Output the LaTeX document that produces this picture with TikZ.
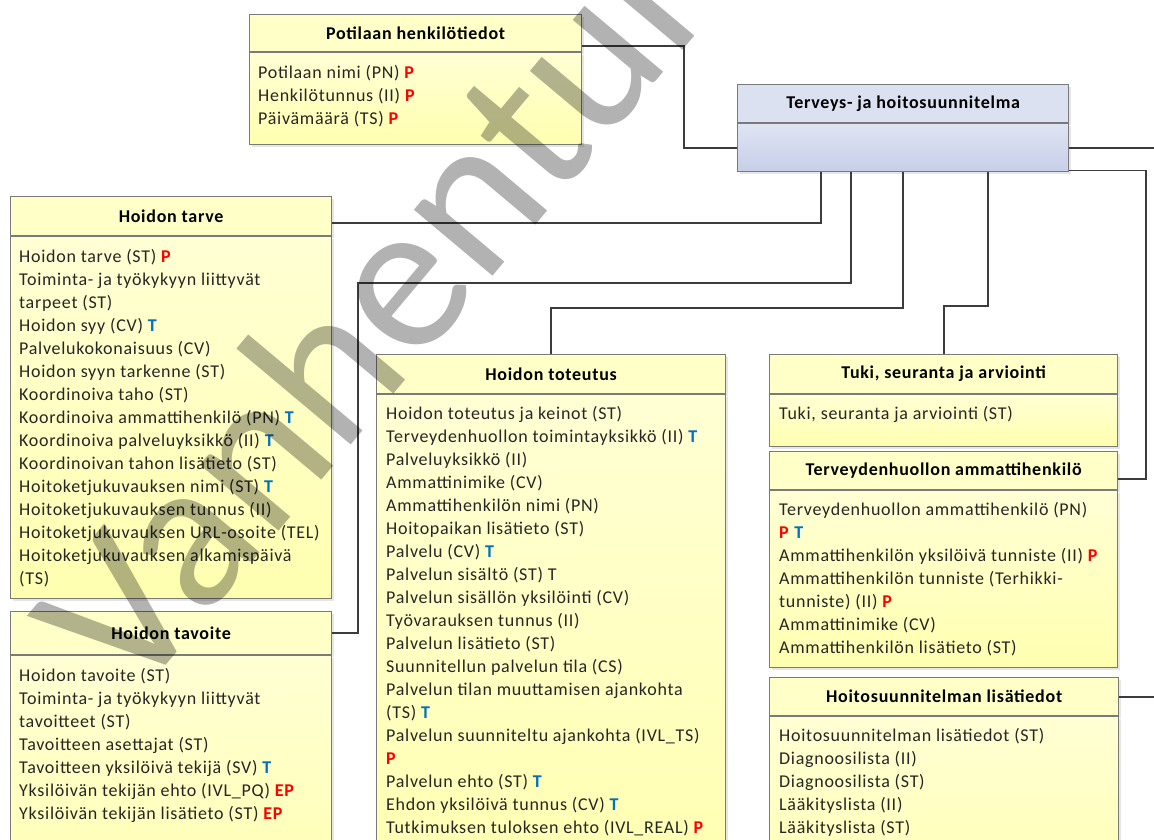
\documentclass[tikz,border=0pt]{standalone}
\usepackage{fontspec}
\setmainfont{Carlito}[LetterSpace=4]
\newfontfamily\stampfont{Carlito}
\usetikzlibrary{positioning,shadows}

\definecolor{boxline}{HTML}{7A7A7A}
\definecolor{connline}{HTML}{3C3C3C}
\definecolor{yhead}{HTML}{FFFFC8}
\definecolor{ytop}{HTML}{FFFFD4}
\definecolor{ybot}{HTML}{FFFFB0}
\definecolor{bhead}{HTML}{DCE1F1}
\definecolor{btop}{HTML}{DFE4F3}
\definecolor{bbot}{HTML}{C7CFE8}
\definecolor{pred}{HTML}{FF0000}
\definecolor{tblue}{HTML}{0070C0}
\definecolor{itemtext}{HTML}{262626}

\newcommand{\pmark}{\textcolor{pred}{\textbf{P}}}
\newcommand{\tmark}{\textcolor{tblue}{\textbf{T}}}
\newcommand{\epmark}{\textcolor{pred}{\textbf{EP}}}

\tikzset{
  hdr/.style={draw=boxline, line width=1.2pt, fill=yhead, anchor=north west, inner sep=0pt,
    font=\fontsize{18}{23}\selectfont\bfseries,
    drop shadow={shadow xshift=2pt, shadow yshift=-2pt, opacity=0.2}},
  bdy/.style={draw=boxline, line width=1.2pt, top color=ytop, bottom color=ybot, anchor=north west, inner sep=0pt,
    drop shadow={shadow xshift=2pt, shadow yshift=-2pt, opacity=0.2}},
  items/.style={anchor=north west, inner sep=0pt, align=left, text=itemtext, font=\fontsize{18}{23}\selectfont},
  conn/.style={draw=connline, line width=1.8pt}
}

\begin{document}
\begin{tikzpicture}[x=1pt,y=-1pt]
\useasboundingbox (0,0) rectangle (1154,839);
\clip (0,0) rectangle (1154,839);

% potilas ja suunnitelma
\node[hdr, minimum width=332pt, minimum height=37pt] (potH) at (249,14) {Potilaan henkilötiedot};
\node[bdy, minimum width=332pt, minimum height=92pt] (pot) at (potH.south west) {};
\node[items] (potT) at ([xshift=9pt,yshift=-10pt]pot.north west) {\strut Potilaan nimi (PN) \pmark\\
Henkilötunnus (II) \pmark\\
Päivämäärä (TS) \pmark};

\node[hdr, fill=bhead, minimum width=331pt, minimum height=38pt] (tervH) at (737,84) {Terveys- ja hoitosuunnitelma};
\node[bdy, top color=btop, bottom color=bbot, minimum width=331pt, minimum height=48pt] (terv) at (tervH.south west) {};

% vasen sarake
\begin{scope}
\node[hdr, minimum width=321pt, minimum height=39pt] (tarveH) at (10,196) {Hoidon tarve};
\node[bdy, minimum width=321pt, minimum height=362pt] (tarve) at (tarveH.south west) {};
\node[items] (tarveT) at ([xshift=9pt,yshift=-10pt]tarve.north west) {\strut Hoidon tarve (ST) \pmark\\
Toiminta- ja työkykyyn liittyvät\\
tarpeet (ST)\\
Hoidon syy (CV) \tmark\\
Palvelukokonaisuus (CV)\\
Hoidon syyn tarkenne (ST)\\
Koordinoiva taho (ST)\\
Koordinoiva ammattihenkilö (PN) \tmark\\
Koordinoiva palveluyksikkö (II) \tmark\\
Koordinoivan tahon lisätieto (ST)\\
Hoitoketjukuvauksen nimi (ST) \tmark\\
Hoitoketjukuvauksen tunnus (II)\\
Hoitoketjukuvauksen URL-osoite (TEL)\\
Hoitoketjukuvauksen alkamispäivä\\
(TS)};

\node[hdr, minimum width=321pt, minimum height=43pt] (tavH) at (10,611) {Hoidon tavoite};
\node[bdy, minimum width=321pt, minimum height=260pt] (tav) at (tavH.south west) {};
\node[items] (tavT) at ([xshift=9pt,yshift=-10pt]tav.north west) {\strut Hoidon tavoite (ST)\\
Toiminta- ja työkykyyn liittyvät\\
tavoitteet (ST)\\
Tavoitteen asettajat (ST)\\
Tavoitteen yksilöivä tekijä (SV) \tmark\\
Yksilöivän tekijän ehto (IVL\_PQ) \epmark\\
Yksilöivän tekijän lisätieto (ST) \epmark};
\end{scope}

% keskisarake
\begin{scope}
\node[hdr, minimum width=349pt, minimum height=39pt] (totH) at (376,354) {Hoidon toteutus};
\node[bdy, minimum width=349pt, minimum height=500pt] (tot) at (totH.south west) {};
\node[items] (totT) at ([xshift=10pt,yshift=-9pt]tot.north west) {\strut Hoidon toteutus ja keinot (ST)\\
Terveydenhuollon toimintayksikkö (II) \tmark\\
Palveluyksikkö (II)\\
Ammattinimike (CV)\\
Ammattihenkilön nimi (PN)\\
Hoitopaikan lisätieto (ST)\\
Palvelu (CV) \tmark\\
Palvelun sisältö (ST) T\\
Palvelun sisällön yksilöinti (CV)\\
Työvarauksen tunnus (II)\\
Palvelun lisätieto (ST)\\
Suunnitellun palvelun tila (CS)\\
Palvelun tilan muuttamisen ajankohta\\
(TS) \tmark\\
Palvelun suunniteltu ajankohta (IVL\_TS)\\
\pmark\\
Palvelun ehto (ST) \tmark\\
Ehdon yksilöivä tunnus (CV) \tmark\\
Tutkimuksen tuloksen ehto (IVL\_REAL) \pmark};
\end{scope}

% oikea sarake
\begin{scope}
\node[hdr, minimum width=348pt, minimum height=39pt] (tukH) at (769,354) {Tuki, seuranta ja arviointi};
\node[bdy, minimum width=348pt, minimum height=52pt] (tuk) at (tukH.south west) {};
\node[items] (tukT) at ([xshift=10pt,yshift=-9pt]tuk.north west) {\strut Tuki, seuranta ja arviointi (ST)};

\node[hdr, minimum width=348pt, minimum height=38pt] (ammH) at (769,451) {Terveydenhuollon ammattihenkilö};
\node[bdy, minimum width=348pt, minimum height=177pt] (amm) at (ammH.south west) {};
\node[items] (ammT) at ([xshift=10pt,yshift=-9pt]amm.north west) {\strut Terveydenhuollon ammattihenkilö (PN)\\
\pmark{} \tmark\\
Ammattihenkilön yksilöivä tunniste (II) \pmark\\
Ammattihenkilön tunniste (Terhikki-\\
tunniste) (II) \pmark\\
Ammattinimike (CV)\\
Ammattihenkilön lisätieto (ST)};

\node[hdr, minimum width=349pt, minimum height=38pt] (lisH) at (769,677) {Hoitosuunnitelman lisätiedot};
\node[bdy, minimum width=349pt, minimum height=200pt] (lis) at (lisH.south west) {};
\node[items] (lisT) at ([xshift=10pt,yshift=-9pt]lis.north west) {\strut Hoitosuunnitelman lisätiedot (ST)\\
Diagnoosilista (II)\\
Diagnoosilista (ST)\\
Lääkityslista (II)\\
Lääkityslista (ST)};
\end{scope}

% yhteydet
\coordinate (edgeR) at (1154,0);
\coordinate (bend) at (358,283);
\draw[conn] ([yshift=6pt]pot.north east) -- ++(102,0) |- (terv.west);
\draw[conn] (terv.east) -- (terv.east -| edgeR);
\draw[conn] ([yshift=2pt]terv.south east) -- ++(77,0) |- ([yshift=-8pt]ammH.east);
\draw[conn] ([xshift=-82pt]terv.south) |- ([yshift=-7pt]tarveH.east);
\draw[conn] ([xshift=-52pt]terv.south) |- (bend) |- (tavH.east);
\draw[conn] (terv.south) |- ([yshift=46pt]totH.north) -- (totH.north);
\draw[conn] ([xshift=85pt]terv.south) |- ([yshift=48pt]tukH.north) -- (tukH.north);
\draw[conn] (lisH.east) -- (lisH.east -| edgeR);

% vesileima
\node[rotate=50, anchor=base west, inner sep=0pt, text=black, text opacity=0.3,
  font=\stampfont\fontsize{215}{215}\selectfont] (stamp) at (132,706) {Vanhentunut};

\end{tikzpicture}
\end{document}
